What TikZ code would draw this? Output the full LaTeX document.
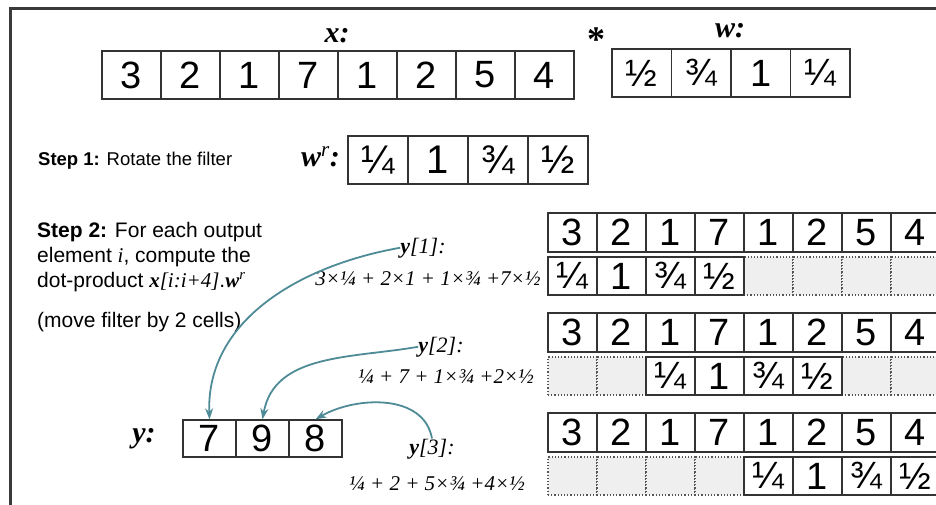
\documentclass[tikz,border=0pt]{standalone}
\usepackage{fontspec}
\setmainfont{Liberation Sans}
\newfontfamily\serifit{Liberation Serif}
\usetikzlibrary{arrows.meta, positioning}
\definecolor{rand}{HTML}{3A3A3A}
\definecolor{strich}{HTML}{333333}
\definecolor{punkt}{HTML}{555555}
\definecolor{leer}{HTML}{EFEFEF}
\definecolor{petrol}{HTML}{4E8B96}
\newcommand{\bvar}[1]{{\serifit\bfseries\itshape #1}}
\newcommand{\ivar}[1]{{\serifit\itshape #1}}
\tikzset{
  every picture/.style={>=Stealth},
  cell/.style={draw=strich, fill=white, line width=1.3pt, inner sep=0pt, font=\fontsize{38}{38}\selectfont},
  hole/.style={draw=punkt, fill=leer, line width=1.2pt, dotted, inner sep=0pt},
  vlab/.style={inner sep=0pt, font=\fontsize{30}{30}\selectfont},
  ilab/.style={inner sep=0pt, font=\fontsize{22}{22}\selectfont},
  sumtxt/.style={inner sep=0pt, font=\fontsize{21}{21}\selectfont\serifit\itshape},
  txt/.style={inner sep=0pt, font=\fontsize{21}{25}\selectfont, align=left},
  pfeil/.style={-{Stealth[length=11pt, width=8pt]}, line width=1.8pt, petrol},
}

\begin{document}
\begin{tikzpicture}[x=1pt, y=1pt]
  \useasboundingbox (0,0) rectangle (936,-504);
  \clip (0,0) rectangle (936,-504);
  \draw[rand, line width=3pt] (10,-8) rectangle (960,-530);
  % input and filter
  \foreach \v [count=\i] in {3,2,1,7,1,2,5,4}
    \node[cell, minimum width=59pt, minimum height=48pt] (xa\i) at ({72.5+59*\i},-75) {\v};
  \node[vlab, anchor=base] (xlab) at (337,-42) {\bvar{x:}};
  \node[inner sep=0pt, font=\fontsize{36}{36}\selectfont\serifit\bfseries] (star) at (596,-40) {*};
  \foreach \v [count=\i] in {½,¾,1,¼}
    \node[cell, minimum width=59.5pt, minimum height=48pt] (wa\i) at ({582.25+59.5*\i},-73) {\v};
  \node[vlab, anchor=base] (wlab) at (730,-37) {\bvar{w:}};
  % step 1
  \node[txt, anchor=base west, font=\fontsize{18.5}{22}\selectfont] (step1) at (38,-165) {\textbf{Step 1:} Rotate the filter};
  \node[vlab, anchor=base east] (wrlab) at (340,-166) {\bvar{w}\textsuperscript{\ivar{r}}\bvar{:}};
  \foreach \v [count=\i] in {¼,1,¾,½}
    \node[cell, minimum width=60pt, minimum height=48pt, font=\fontsize{40}{40}\selectfont] (wr\i) at ({318+60*\i},-160) {\v};
  % step 2
  \node[txt, anchor=north west] (step2) at (37,-222) {\textbf{Step 2:} For each output\\element \ivar{i}, compute the\\dot-product \bvar{x}\ivar{[i:i+4]}.\bvar{w}\textsuperscript{\ivar{r}}};
  \node[txt, anchor=base west] (move) at (37,-327) {(move filter by 2 cells)};
  \foreach \k/\s/\ha/\hb/\hc/\hd in {0/0/5/6/7/8, 1/2/1/2/7/8, 2/4/1/2/3/4} {
    \foreach \v [count=\i] in {3,2,1,7,1,2,5,4}
      \node[cell, minimum width=49pt, minimum height=39pt] (g\k-x\i) at ({523.5+49*\i},{-232.5-100*\k}) {\v};
    \foreach \h in {\ha,\hb,\hc,\hd}
      \node[hole, minimum width=49pt, minimum height=38pt] (g\k-h\h) at ({523.5+49*\h},{-276-100*\k}) {};
    \foreach \v [count=\i] in {¼,1,¾,½}
      \node[cell, minimum width=49pt, minimum height=38pt] (g\k-f\i) at ({523.5+49*(\i+\s)},{-276-100*\k}) {\v};
  }
  % output y
  \node[vlab, anchor=base] (ylab) at (144,-442) {\bvar{y:}};
  \foreach \v [count=\i] in {7,9,8}
    \node[cell, minimum width=53pt, minimum height=37pt] (yc\i) at ({156.5+53*\i},-438.5) {\v};
  \node[ilab, anchor=base] (yl1) at (423,-253) {\bvar{y}\ivar{[1]:}};
  \node[sumtxt, anchor=base] (sum1) at (428,-285) {3×¼ + 2×1 + 1×¾ +7×½};
  \node[ilab, anchor=base] (yl2) at (441,-352) {\bvar{y}\ivar{[2]:}};
  \node[sumtxt, anchor=base] (sum2) at (446,-383) {¼ + 7 + 1×¾ +2×½};
  \node[ilab, anchor=base] (yl3) at (432,-454) {\bvar{y}\ivar{[3]:}};
  \node[sumtxt, anchor=base] (sum3) at (437,-490) {¼ + 2 + 5×¾ +4×½};
  \draw[pfeil] (yl1.west) to[out=190, in=92] (yc1.north);
  \draw[pfeil] (yl2.west) to[out=190, in=80] (yc2.north);
  \draw[pfeil] (yl3.north) to[out=100, in=30] (yc3.north);
\end{tikzpicture}
\end{document}
